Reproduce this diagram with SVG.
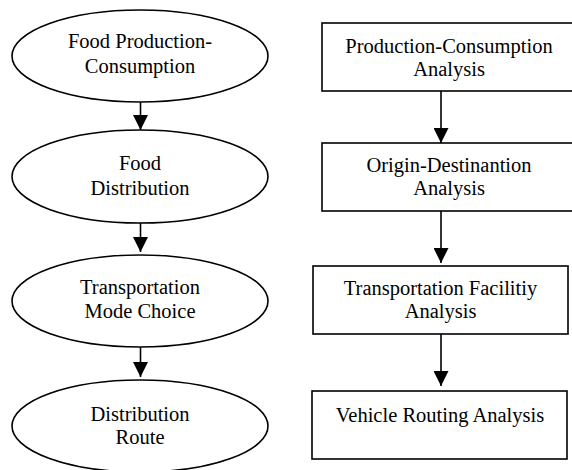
<svg xmlns="http://www.w3.org/2000/svg" width="572" height="470" viewBox="0 0 572 470">
<defs>
<style>
.shape{fill:#fff;stroke:#000;stroke-width:1.6}
.conn{stroke:#000;stroke-width:1.6;fill:none}
text{font-family:"Liberation Serif","Times New Roman",serif;font-size:20.5px;fill:#000;text-anchor:middle}
</style>
<marker id="ah" viewBox="0 0 15 15" refX="15" refY="7.5" markerWidth="15" markerHeight="15" markerUnits="userSpaceOnUse" orient="auto">
<path d="M0,0 L15,7.5 L0,15 Z" fill="#000"/>
</marker>
</defs>
<rect width="572" height="470" fill="#fff"/>
<g id="e1"><ellipse class="shape" cx="140" cy="56" rx="128" ry="46"/><text x="140" y="48">Food Production-</text><text x="140" y="73">Consumption</text></g>
<g id="e2"><ellipse class="shape" cx="140" cy="176.5" rx="128" ry="46.5"/><text x="140" y="170">Food</text><text x="140" y="195">Distribution</text></g>
<g id="e3"><ellipse class="shape" cx="140" cy="301" rx="128" ry="46"/><text x="140" y="294">Transportation</text><text x="140" y="318">Mode Choice</text></g>
<g id="e4"><ellipse class="shape" cx="140" cy="426" rx="128" ry="46"/><text x="140" y="421">Distribution</text><text x="140" y="444">Route</text></g>
<g id="b1"><rect class="shape" x="322" y="23" width="254" height="68"/><text x="449" y="53">Production-Consumption</text><text x="449" y="76">Analysis</text></g>
<g id="b2"><rect class="shape" x="322" y="143" width="254" height="68"/><text x="449" y="172">Origin-Destinantion</text><text x="449" y="195">Analysis</text></g>
<g id="b3"><rect class="shape" x="313" y="266" width="255" height="68"/><text x="440.5" y="295">Transportation Facilitiy</text><text x="440.5" y="318">Analysis</text></g>
<g id="b4"><rect class="shape" x="312" y="391" width="255" height="68"/><text x="440" y="422">Vehicle Routing Analysis</text></g>
<g id="connectors">
<line class="conn" x1="140.5" y1="102" x2="140.5" y2="130" marker-end="url(#ah)"/>
<line class="conn" x1="140.5" y1="223" x2="140.5" y2="252" marker-end="url(#ah)"/>
<line class="conn" x1="140.5" y1="347" x2="140.5" y2="377" marker-end="url(#ah)"/>
<line class="conn" x1="441" y1="91" x2="441" y2="143" marker-end="url(#ah)"/>
<line class="conn" x1="441" y1="211" x2="441" y2="263" marker-end="url(#ah)"/>
<line class="conn" x1="441" y1="334" x2="441" y2="386" marker-end="url(#ah)"/>
</g>
</svg>
